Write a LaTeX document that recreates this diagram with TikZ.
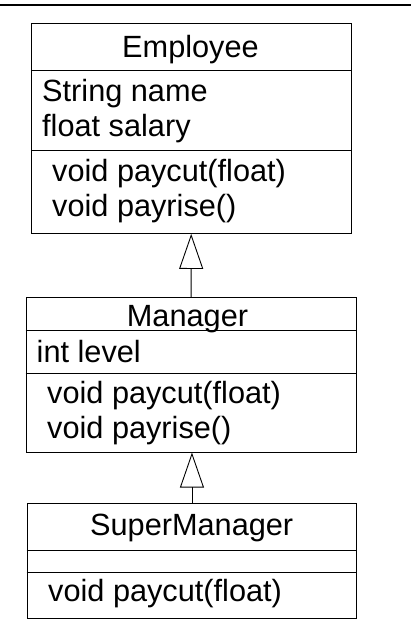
\documentclass[tikz,border=0pt]{standalone}
\usepackage{fontspec}
\setmainfont{Liberation Sans}
\usetikzlibrary{arrows.meta}
\begin{document}
\begin{tikzpicture}[x=1pt,y=-1pt,
  cls/.style={draw,line width=0.9pt,inner sep=0pt,anchor=north west},
  txt/.style={anchor=base west,inner sep=0pt,font=\fontsize{30.7}{35}\selectfont},
  ttl/.style={anchor=base,inner sep=0pt,font=\fontsize{30.7}{35}\selectfont},
  div/.style={line width=0.9pt},
  inh/.style={-{Triangle[open,length=35pt,width=24pt]},line width=0.9pt}]
\useasboundingbox (0,0) rectangle (414,632);
\coordinate (tl) at (0,4.7);
\coordinate (tr) at (411,4.7);
\draw[line width=1.8pt] (tl) -- (tr);
% Employee
\node[cls,minimum width=319.5pt,minimum height=210pt] (emp) at (31,23) {};
\draw[div] (emp.west |- 0,70) -- (emp.east |- 0,70);
\draw[div] (emp.west |- 0,150.7) -- (emp.east |- 0,150.7);
\node[ttl] (empn) at (190.5,57) {Employee};
\node[txt] (empa1) at (42,101) {String name};
\node[txt] (empa2) at (42,136) {float salary};
\node[txt] (empm1) at (52,181.7) {void paycut(float)};
\node[txt] (empm2) at (52,216.7) {void payrise()};
% Manager
\node[cls,minimum width=330pt,minimum height=154.7pt] (mgr) at (25.7,297) {};
\draw[div] (mgr.west |- 0,330.7) -- (mgr.east |- 0,330.7);
\draw[div] (mgr.west |- 0,373) -- (mgr.east |- 0,373);
\node[ttl] (mgrn) at (187.5,326) {Manager};
\node[txt] (mgra1) at (36.5,362.7) {int level};
\node[txt] (mgrm1) at (47,403.3) {void paycut(float)};
\node[txt] (mgrm2) at (47,438.3) {void payrise()};
% SuperManager
\node[cls,minimum width=329.6pt,minimum height=115pt] (sup) at (26.7,503) {};
\draw[div] (sup.west |- 0,550.7) -- (sup.east |- 0,550.7);
\draw[div] (sup.west |- 0,572) -- (sup.east |- 0,572);
\node[ttl] (supn) at (191.7,535) {SuperManager};
\node[txt] (supm1) at (48,601.7) {void paycut(float)};
% inheritance
\draw[inh] (mgr.north) -- (emp.south);
\draw[inh] (sup.north) -- (sup.north |- mgr.south);
\end{tikzpicture}
\end{document}
